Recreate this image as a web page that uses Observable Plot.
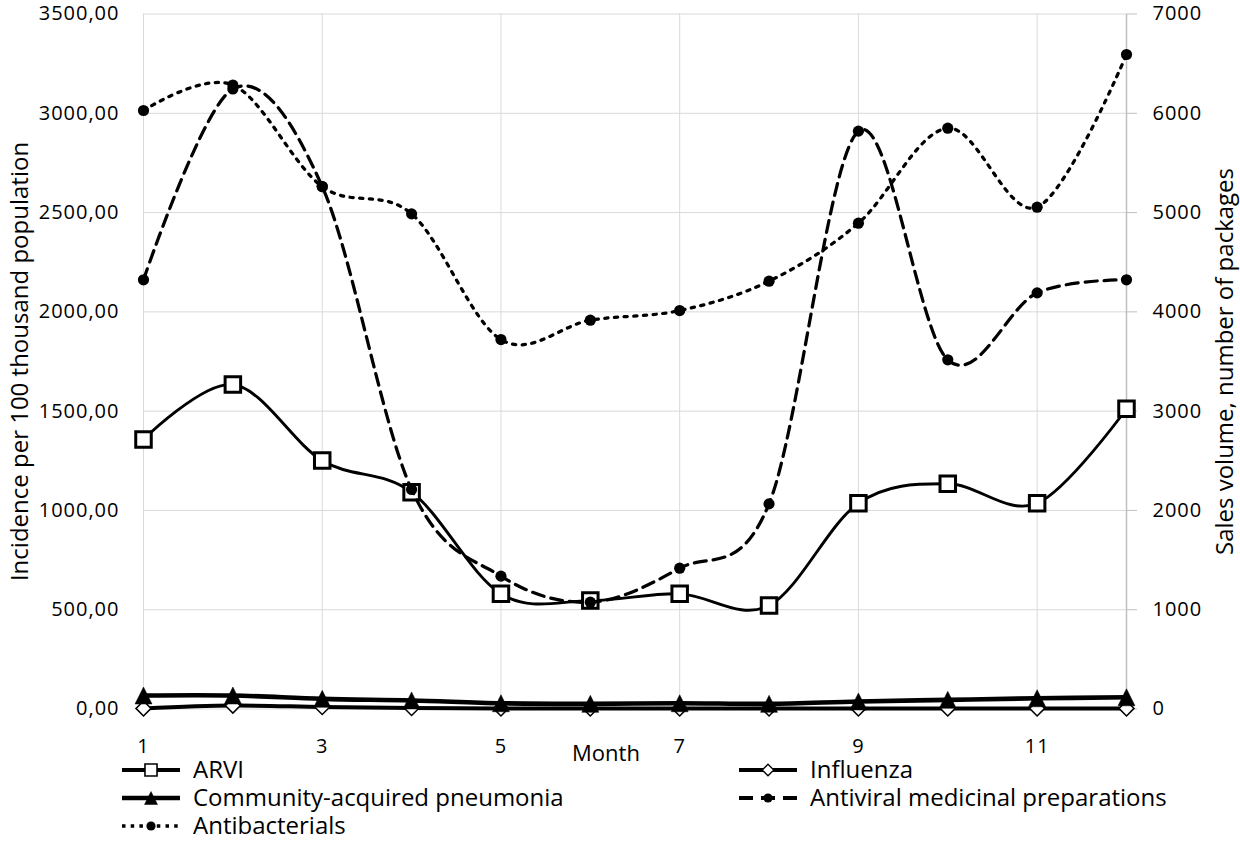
<!DOCTYPE html>
<html>
<head>
<meta charset="utf-8">
<script src="https://cdn.jsdelivr.net/npm/d3@7"></script>
<script src="https://cdn.jsdelivr.net/npm/@observablehq/plot@0.6"></script>
<style>
  body { margin: 0; background: #fff; font-family: "Open Sans", sans-serif; color: #000; }
  #chart { width: 1240px; }
  #chart [aria-label$="tick label"] text { letter-spacing: 1px; }
  .legend { display: grid; grid-template-columns: 617px auto; grid-auto-rows: 28px; padding-left: 122px; margin-top: -6px; font-size: 24px; }
  .item { display: flex; align-items: center; }
  .item svg { margin-right: 12px; flex: none; }
  .item span { display: inline-block; line-height: 20px; height: 20px; white-space: nowrap; position: relative; top: -1px; }
</style>
</head>
<body>
<div id="chart"></div>
<div class="legend" id="legend"></div>
<script>
// ---- data ----
const months = [1, 2, 3, 4, 5, 6, 7, 8, 9, 10, 11, 12];
const arviIncidence       = [1357, 1634, 1251, 1092, 580, 546, 580, 521, 1036, 1134, 1036, 1512];
const influenzaIncidence  = [3, 17, 10, 5, 3, 3, 3, 3, 3, 3, 3, 3];
const pneumoniaIncidence  = [68, 68, 51, 43, 29, 26, 29, 26, 38, 46, 54, 59];
const antiviralSales      = [4323, 6245, 5262, 2211, 1338, 1076, 1418, 2066, 5820, 3517, 4191, 4323];
const antibacterialSales  = [6028, 6285, 5262, 4987, 3721, 3916, 4013, 4309, 4893, 5850, 5054, 6592];
const seriesNames = ["ARVI", "Influenza", "Community-acquired pneumonia", "Antiviral medicinal preparations", "Antibacterials"];
const leftTicks  = [0, 500, 1000, 1500, 2000, 2500, 3000, 3500];
const rightTicks = [0, 1000, 2000, 3000, 4000, 5000, 6000, 7000];
const xTicks = [1, 3, 5, 7, 9, 11];
const leftTitle = "Incidence per 100 thousand population";
const rightTitle = "Sales volume, number of packages";
const xTitle = "Month";
const axisRatio = 2; // right axis (0–7000) vs left axis (0–3500)

// ---- tidy table ----
const seriesValues = [arviIncidence, influenzaIncidence, pneumoniaIncidence, antiviralSales, antibacterialSales];
const seriesAxis = ["left", "left", "left", "right", "right"];
const table = [];
seriesNames.forEach((name, s) => {
  seriesValues[s].forEach((v, i) => table.push({ series: name, month: months[i], value: v, axis: seriesAxis[s] }));
});
const yOf = d => d.axis === "right" ? d.value / axisRatio : d.value;

// ---- custom symbols ----
const diamondSymbol = { draw(ctx, size) { const h = Math.sqrt(size / 2); ctx.moveTo(0, -h); ctx.lineTo(h, 0); ctx.lineTo(0, h); ctx.lineTo(-h, 0); ctx.closePath(); } };
const triangleSymbol = { draw(ctx, size) { const a = Math.sqrt(size / Math.PI); ctx.moveTo(0, -a); ctx.lineTo(a, a); ctx.lineTo(-a, a); ctx.closePath(); } };

// ---- styles ----
const styles = {
  "ARVI": { lw: 2.9, dash: null, symbol: "square", r: 8.75, fill: "white", sw: 3, legR: 6.8, legSw: 1.6, legLw: 4 },
  "Influenza": { lw: 4, dash: null, symbol: diamondSymbol, r: 6, fill: "white", sw: 1.5, legR: 4.6, legSw: 1.3, legLw: 4 },
  "Community-acquired pneumonia": { lw: 4.6, dash: null, symbol: triangleSymbol, r: 8.5, fill: "black", sw: 0.5, legR: 6.5, legSw: 0.5, legLw: 4.6 },
  "Antiviral medicinal preparations": { lw: 3.25, dash: "12 7", symbol: "circle", r: 5.6, fill: "black", sw: 0, legR: 4.6, legSw: 0, legLw: 4, legDash: "14 8" },
  "Antibacterials": { lw: 3.25, dash: "3.25 6.45", symbol: "circle", r: 5.6, fill: "black", sw: 0, legR: 4.6, legSw: 0, legLw: 3.5, legDash: "3.5 5.2" }
};

const gridColor = "#d9d9d9";
const axisColor = "#bfbfbf";

const seriesMarks = seriesNames.flatMap(name => {
  const st = styles[name];
  const rows = table.filter(d => d.series === name);
  return [
    Plot.line(rows, { x: "month", y: yOf, curve: "cardinal", stroke: "black", strokeWidth: st.lw, strokeDasharray: st.dash, strokeLinejoin: "round" }),
    Plot.dot(rows, { x: "month", y: yOf, symbol: st.symbol, r: st.r, fill: st.fill, stroke: "black", strokeWidth: st.sw })
  ];
});

const chart = Plot.plot({
  width: 1240,
  height: 762,
  marginLeft: 143,
  marginRight: 114,
  marginTop: 13.5,
  marginBottom: 53.5,
  style: { fontFamily: "Open Sans", fontSize: "20px", color: "black", background: "white", overflow: "visible" },
  x: { type: "linear", domain: [1, 12] },
  y: { type: "linear", domain: [0, 3500] },
  marks: [
    Plot.gridY(leftTicks, { stroke: gridColor, strokeOpacity: 1, strokeWidth: 1 }),
    Plot.gridX(xTicks, { stroke: gridColor, strokeOpacity: 1, strokeWidth: 1 }),
    Plot.ruleX([12], { stroke: axisColor, strokeWidth: 1.5 }),
    Plot.axisY({ anchor: "left", ticks: leftTicks, tickSize: 0, tickPadding: 24, label: null, tickFormat: d => d.toFixed(2).replace(".", ",") }),
    Plot.axisY({ anchor: "right", ticks: rightTicks.map(t => t / axisRatio), tickSize: 10, tickPadding: 16, stroke: axisColor, fill: "black", label: null, tickFormat: d => String(d * axisRatio) }),
    Plot.axisX({ ticks: xTicks, tickSize: 0, tickPadding: 30, label: null, tickFormat: d => String(d) }),
    ...seriesMarks,
    Plot.text([leftTitle], { text: d => d, frameAnchor: "left", textAnchor: "middle", lineAnchor: "middle", dx: -123, rotate: -90, fontSize: 24, fill: "black" }),
    Plot.text([rightTitle], { text: d => d, frameAnchor: "right", textAnchor: "middle", lineAnchor: "middle", dx: 99, rotate: -90, fontSize: 24, fill: "black" }),
    Plot.text([xTitle], { text: d => d, frameAnchor: "bottom", textAnchor: "middle", lineAnchor: "middle", dx: -29, dy: 45, fontSize: 22, fill: "black" })
  ]
});
document.getElementById("chart").append(chart);

// ---- legend ----
const legend = document.getElementById("legend");
const NS = "http://www.w3.org/2000/svg";
seriesNames.forEach(name => {
  const st = styles[name];
  const item = document.createElement("div");
  item.className = "item";
  const svg = document.createElementNS(NS, "svg");
  svg.setAttribute("width", 59);
  svg.setAttribute("height", 28);
  const line = document.createElementNS(NS, "line");
  line.setAttribute("x1", 0); line.setAttribute("x2", 58);
  line.setAttribute("y1", 14); line.setAttribute("y2", 14);
  line.setAttribute("stroke", "black");
  line.setAttribute("stroke-width", st.legLw);
  if (st.legDash) line.setAttribute("stroke-dasharray", st.legDash);
  svg.appendChild(line);
  const sym = st.symbol === "square" ? d3.symbolSquare : st.symbol === "circle" ? d3.symbolCircle : st.symbol;
  const p = document.createElementNS(NS, "path");
  p.setAttribute("d", d3.symbol(sym, Math.PI * st.legR * st.legR)());
  p.setAttribute("transform", "translate(29,14)");
  p.setAttribute("fill", st.fill);
  p.setAttribute("stroke", "black");
  p.setAttribute("stroke-width", st.legSw);
  svg.appendChild(p);
  const span = document.createElement("span");
  span.textContent = name;
  item.append(svg, span);
  legend.append(item);
});
</script>
</body>
</html>
